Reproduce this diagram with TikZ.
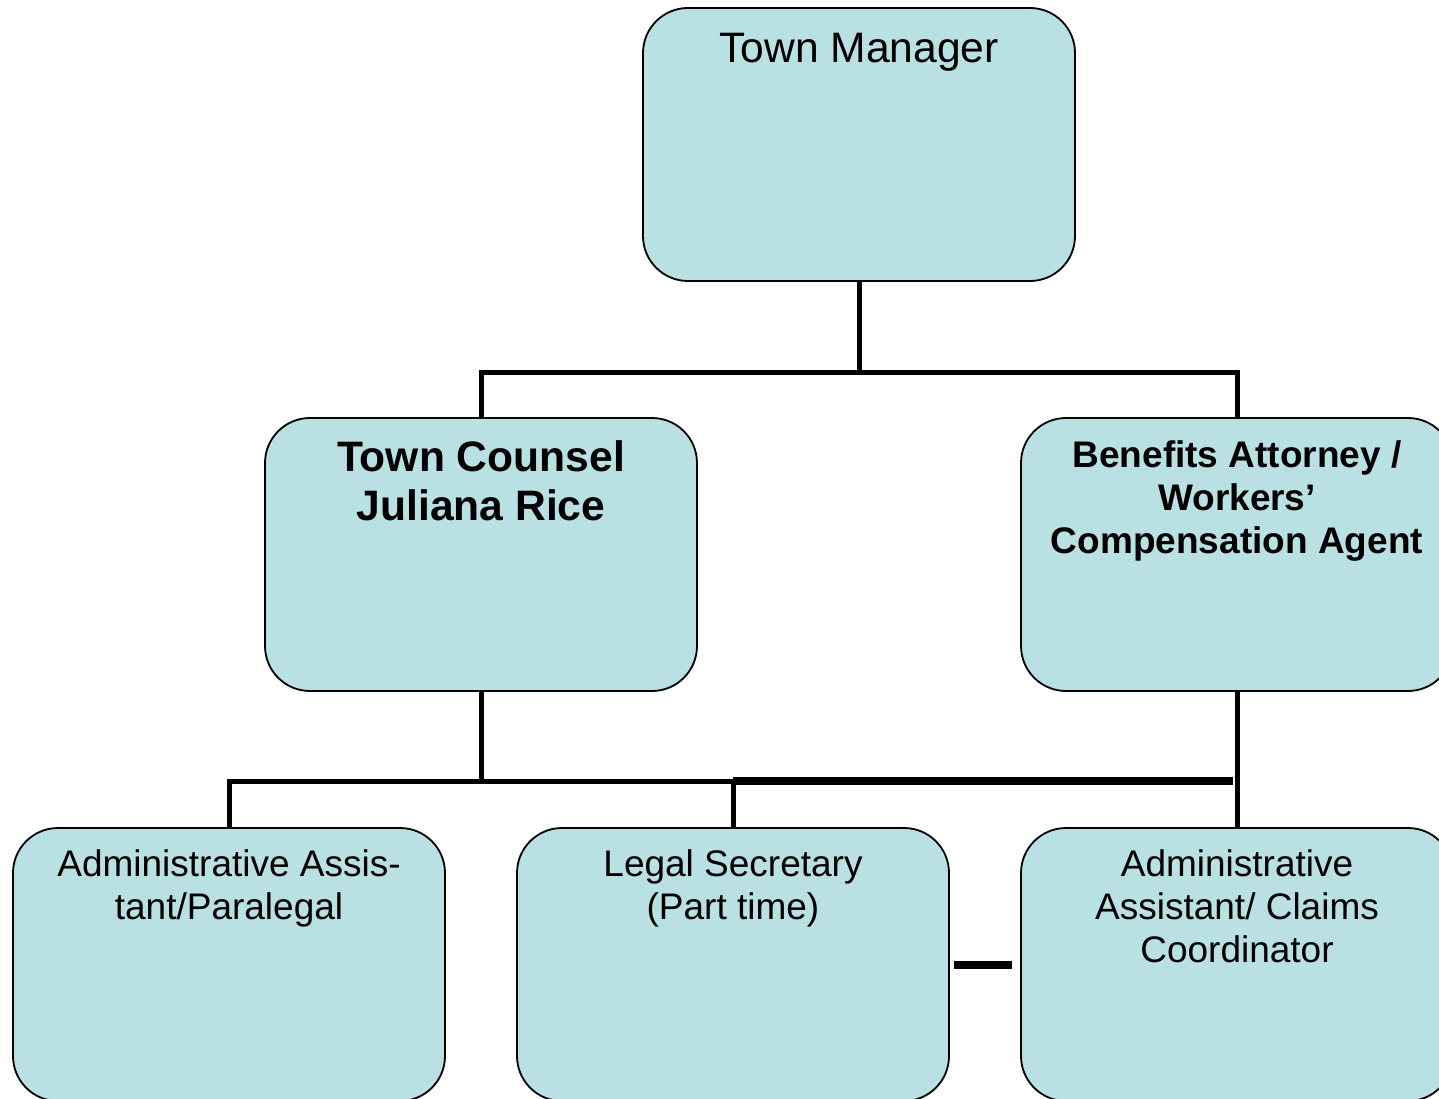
\documentclass[tikz,border=0pt]{standalone}
\usepackage{fontspec}
\setmainfont{Liberation Sans}
\usetikzlibrary{positioning}
\definecolor{boxfill}{RGB}{185,224,227}
\tikzstyle{post}=[draw, line width=1.8pt, fill=boxfill, rounded corners=45pt, minimum width=432pt, minimum height=273pt, inner sep=0pt]
\tikzstyle{lbl}=[align=center, inner sep=0pt, anchor=north]
\tikzstyle{big}=[font=\fontsize{42.6}{49}\selectfont]
\tikzstyle{small}=[font=\fontsize{37}{43}\selectfont]
\tikzstyle{conn}=[line width=5pt]

\begin{document}
\begin{tikzpicture}[x=1pt,y=-1pt]
      \useasboundingbox (0,0) rectangle (1439,1099);
      \node [post] (tm) at (859,144.5) {};
      \node [post] (tc) at (481,554.5) {};
      \node [post] (ba) at (1237,554.5) {};
      \node [post] (aa) at (229,964.5) {};
      \node [post] (ls) at (733,964.5) {};
      \node [post] (ac) at (1237,964.5) {};
      \node [lbl,big,below=26pt of tm.north] (tm-t) {Town Manager};
      \node [lbl,big,below=23pt of tc.north] (tc-t) {\bfseries Town Counsel\\ \bfseries Juliana Rice};
      \node [lbl,small,below=23pt of ba.north] (ba-t) {\bfseries Benefits Attorney /\\ \bfseries Workers'\\ \bfseries Compensation Agent};
      \node [lbl,small,below=22pt of aa.north] (aa-t) {Administrative Assis-\\tant/Paralegal};
      \node [lbl,small,below=22pt of ls.north] (ls-t) {Legal Secretary\\(Part time)};
      \node [lbl,small,below=22pt of ac.north] (ac-t) {Administrative\\Assistant/ Claims\\Coordinator};
      \coordinate (j1) at (859,372);
      \coordinate (j2) at (481,781);
      \coordinate (j3) at (733,781);
      \coordinate (j4) at (1233,781);
      \draw [conn] (tm.south) -- (j1);
      \draw [conn] (tc.north) |- (j1) -| (ba.north);
      \draw [conn] (tc.south) -- (j2);
      \draw [conn] (aa.north) |- (j2) -| (ls.north);
      \draw [line width=8pt] (j3) -- (j4);
      \draw [conn] (ba.south) -- (ac.north);
      \draw [line width=8pt] ([xshift=4pt]ls.east) -- ([xshift=-8pt]ac.west);
\end{tikzpicture}
\end{document}
